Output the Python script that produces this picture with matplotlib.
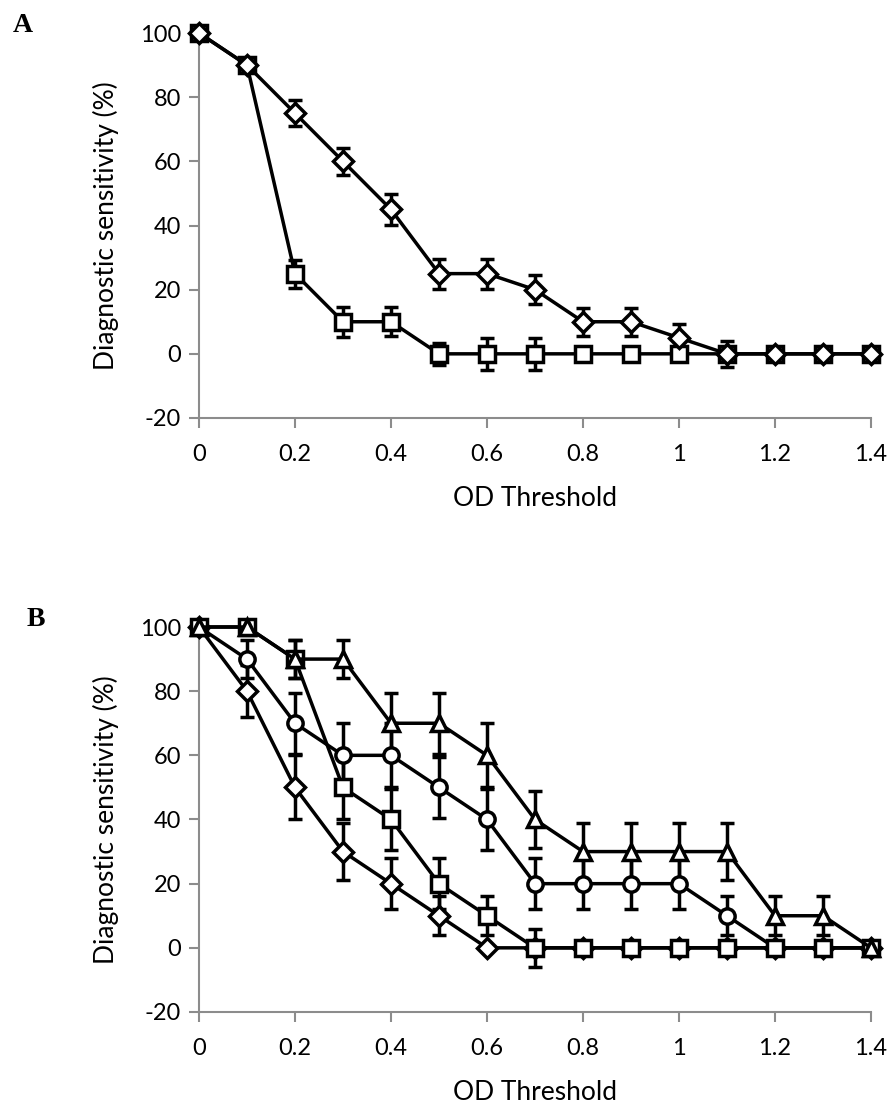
import numpy as np
import matplotlib
matplotlib.use('Agg')
import matplotlib.pyplot as plt

plt.rcParams['font.family'] = ['Lato', 'DejaVu Sans']
plt.rcParams['axes.unicode_minus'] = False

# OD 阈值
od = [0, 0.1, 0.2, 0.3, 0.4, 0.5, 0.6, 0.7, 0.8, 0.9, 1.0, 1.1, 1.2, 1.3, 1.4]

# Panel A
a_diamond = [100, 90, 75, 60, 45, 25, 25, 20, 10, 10, 5, 0, 0, 0, 0]
a_diamond_err = [1.5, 2, 4, 4.3, 4.7, 4.7, 4.7, 4.5, 4.3, 4.3, 4.4, 4, 0, 0, 0]
a_square = [100, 90, 25, 10, 10, 0, 0, 0, 0, 0, 0, 0, 0, 0, 0]
a_square_err = [1.5, 2, 4.4, 4.7, 4.5, 3.4, 5, 5, 0, 0, 0, 0, 0, 0, 0]

# Panel B
b_diamond = [100, 80, 50, 30, 20, 10, 0, 0, 0, 0, 0, 0, 0, 0, 0]
b_diamond_err = [0, 8, 10, 9, 8, 6, 0, 0, 0, 0, 0, 0, 0, 0, 0]
b_square = [100, 100, 90, 50, 40, 20, 10, 0, 0, 0, 0, 0, 0, 0, 0]
b_square_err = [0, 0, 6, 10, 9.5, 8, 6, 6, 0, 0, 0, 0, 0, 0, 0]
b_circle = [100, 90, 70, 60, 60, 50, 40, 20, 20, 20, 20, 10, 0, 0, 0]
b_circle_err = [0, 6, 9.5, 10, 10, 9.5, 9.5, 8, 8, 8, 8, 6, 0, 0, 0]
b_triangle = [100, 100, 90, 90, 70, 70, 60, 40, 30, 30, 30, 30, 10, 10, 0]
b_triangle_err = [0, 0, 6, 6, 9.5, 9.5, 10, 9, 9, 9, 9, 9, 6, 6, 0]

xticks = [0, 0.2, 0.4, 0.6, 0.8, 1, 1.2, 1.4]
xticklabels = ['0', '0.2', '0.4', '0.6', '0.8', '1', '1.2', '1.4']
yticks = [-20, 0, 20, 40, 60, 80, 100]

W, H = 892, 1104
fig = plt.figure(figsize=(W / 100, H / 100), dpi=100)

GRAY = '#8c8c8c'
MSIZE = {'D': 10.5, 's': 11, 'o': 11, '^': 12}


def draw_series(ax, y, err, marker):
    ax.errorbar(od, y, yerr=err, fmt='none', ecolor='black', elinewidth=2.5,
                capsize=5, capthick=2.5, zorder=3, clip_on=False)
    ax.plot(od, y, color='black', lw=2.5, marker=marker, ms=MSIZE[marker],
            mfc='white', mec='black', mew=2.5, zorder=4, clip_on=False)


def style_axes(ax):
    ax.set_xlim(0, 1.4)
    ax.set_ylim(-20, 100)
    ax.set_xticks(xticks)
    ax.set_xticklabels(xticklabels)
    ax.set_yticks(yticks)
    for s in ['top', 'right']:
        ax.spines[s].set_visible(False)
    for s in ['left', 'bottom']:
        ax.spines[s].set_color(GRAY)
        ax.spines[s].set_linewidth(1.5)
    ax.tick_params(axis='both', direction='out', length=7, width=1.5,
                   color=GRAY, labelsize=17, pad=6)
    ax.tick_params(axis='x', pad=12)
    ax.set_xlabel('OD Threshold', fontsize=19, labelpad=15)
    ax.set_ylabel('Diagnostic sensitivity (%)', fontsize=19, labelpad=15)


left = 199 / W
width = (871 - 199) / W
height = (418 - 33) / H

ax1 = fig.add_axes([left, 1 - 418 / H, width, height])
draw_series(ax1, a_square, a_square_err, 's')
draw_series(ax1, a_diamond, a_diamond_err, 'D')
style_axes(ax1)

ax2 = fig.add_axes([left, 1 - 1012 / H, width, height])
draw_series(ax2, b_diamond, b_diamond_err, 'D')
draw_series(ax2, b_circle, b_circle_err, 'o')
draw_series(ax2, b_square, b_square_err, 's')
draw_series(ax2, b_triangle, b_triangle_err, '^')
style_axes(ax2)

fig.text(23 / W, 1 - 25 / H, 'A', fontsize=20, fontweight='bold',
         family='Liberation Serif', ha='center', va='center')
fig.text(36 / W, 1 - 620 / H, 'B', fontsize=20, fontweight='bold',
         family='Liberation Serif', ha='center', va='center')

fig.savefig('out.png', dpi=100)
